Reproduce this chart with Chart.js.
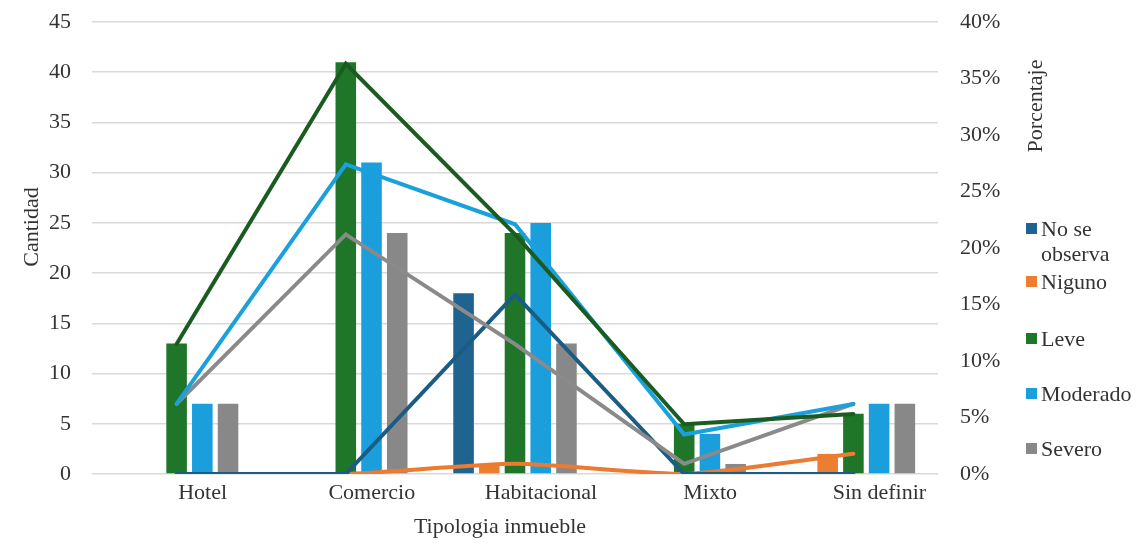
<!DOCTYPE html>
<html>
<head>
<meta charset="utf-8">
<script src="https://cdn.jsdelivr.net/npm/chart.js@4.4.1/dist/chart.umd.min.js"></script>
<style>
  html, body { margin: 0; padding: 0; background: #ffffff; }
  #wrap { position: relative; width: 1144px; height: 543px; overflow: hidden; }
  canvas { display: block; }
  .leg { position: absolute; left: 1026px; display: flex; align-items: flex-start;
         font-family: "Liberation Serif", "Times New Roman", serif; font-size: 22px; line-height: 25px; color: #333; }
  .leg .sw { width: 11px; height: 11px; margin-top: 7px; margin-right: 4px; flex: none; }
  .leg .tx { width: 105px; }
</style>
</head>
<body>
<div id="wrap">
  <canvas id="c" width="1144" height="543"></canvas>
  <div id="legend"></div>
</div>
<script>
// ---- data ----
const categories = ['Hotel', 'Comercio', 'Habitacional', 'Mixto', 'Sin definir'];
const seriesNames = ['No se observa', 'Niguno', 'Leve', 'Moderado', 'Severo'];

const noSeObserva = [0, 0, 18, 0, 0];
const niguno      = [0, 0, 1, 0, 2];
const leve        = [13, 41, 24, 5, 6];
const moderado    = [7, 31, 25, 4, 7];
const severo      = [7, 24, 13, 1, 7];

const noSeObservaPct = [0, 0, 15.9, 0, 0];
const nigunoPct      = [0, 0, 0.9, 0, 1.8];
const levePct        = [11.5, 36.3, 21.2, 4.4, 5.3];
const moderadoPct    = [6.2, 27.4, 22.1, 3.5, 6.2];
const severoPct      = [6.2, 21.2, 11.5, 0.9, 6.2];

const leftTicks  = [0, 5, 10, 15, 20, 25, 30, 35, 40, 45];
const rightTicks = [0, 5, 10, 15, 20, 25, 30, 35, 40];

const barColors  = ['#1f6391', '#ed7d31', '#1f7628', '#1b9fdc', '#888888'];
const lineColors = ['#1b5c84', '#ec7a30', '#1a5c20', '#1aa0dc', '#8a8a8a'];

const FONT = '"Liberation Serif", "Times New Roman", serif';
const TXT = '#333333';

const barData  = [noSeObserva, niguno, leve, moderado, severo];
const lineData = [noSeObservaPct, nigunoPct, levePct, moderadoPct, severoPct];
const lineOrder = [4, 5, 1, 2, 3];

const datasets = [];
barData.forEach((d, i) => datasets.push({
  type: 'bar', label: seriesNames[i], data: d, backgroundColor: barColors[i],
  yAxisID: 'y', order: 10 + i, categoryPercentage: 0.76, barPercentage: 0.8
}));
lineData.forEach((d, i) => datasets.push({
  type: 'line', label: seriesNames[i] + ' %', data: d, borderColor: lineColors[i],
  backgroundColor: lineColors[i], borderWidth: 4, pointRadius: 0, fill: false,
  tension: i === 1 ? 0.2 : 0, yAxisID: 'y1', order: lineOrder[i], borderCapStyle: 'round'
}));

const titles = {
  id: 'titles',
  afterDraw(chart) {
    const ctx = chart.ctx;
    ctx.save();
    ctx.fillStyle = TXT;
    ctx.font = '22px ' + FONT;
    ctx.textAlign = 'center';
    ctx.textBaseline = 'middle';
    ctx.fillText('Tipologia inmueble', 500, 527);
    ctx.translate(32, 227); ctx.rotate(-Math.PI / 2);
    ctx.fillText('Cantidad', 0, 0);
    ctx.restore();
    ctx.save();
    ctx.fillStyle = TXT;
    ctx.font = '22px ' + FONT;
    ctx.textAlign = 'center';
    ctx.textBaseline = 'middle';
    ctx.translate(1036, 106); ctx.rotate(-Math.PI / 2);
    ctx.fillText('Porcentaje', 0, 0);
    ctx.restore();
  }
};

function fixV(w) {
  return function (s) { s.width = w; s.paddingTop = 0; s.paddingBottom = 0; };
}

new Chart(document.getElementById('c'), {
  data: { labels: categories, datasets },
  plugins: [titles],
  options: {
    responsive: false, animation: false,
    layout: { padding: { top: 22, left: 0, right: 0, bottom: 0 } },
    plugins: { legend: { display: false }, tooltip: { enabled: false } },
    scales: {
      x: {
        grid: { display: false, drawTicks: false }, border: { display: false },
        ticks: { font: { family: FONT, size: 22 }, color: TXT, padding: 6, labelOffset: 26, maxRotation: 0, autoSkip: false },
        afterFit(s) { s.height = 69; s.paddingLeft = 0; s.paddingRight = 0; }
      },
      y: {
        position: 'left', min: 0, max: 45,
        afterBuildTicks(s) { s.ticks = leftTicks.map(v => ({ value: v })); },
        grid: { color: '#d9d9d9', lineWidth: 1.5, drawTicks: false }, border: { display: false },
        ticks: { font: { family: FONT, size: 22 }, color: TXT, padding: 21 },
        afterFit: fixV(92)
      },
      y1: {
        position: 'right', min: 0, max: 40,
        afterBuildTicks(s) { s.ticks = rightTicks.map(v => ({ value: v })); },
        grid: { display: false, drawTicks: false }, border: { display: false },
        ticks: { font: { family: FONT, size: 22 }, color: TXT, padding: 22, callback: v => v + '%' },
        afterFit: fixV(206)
      }
    }
  }
});

// legend (HTML)
const legendTops = [216, 269, 326, 381, 436];
const leg = document.getElementById('legend');
seriesNames.forEach((n, i) => {
  const d = document.createElement('div');
  d.className = 'leg';
  d.style.top = legendTops[i] + 'px';
  d.innerHTML = '<span class="sw" style="background:' + barColors[i] + '"></span><span class="tx">' + n + '</span>';
  leg.appendChild(d);
});
</script>
</body>
</html>
